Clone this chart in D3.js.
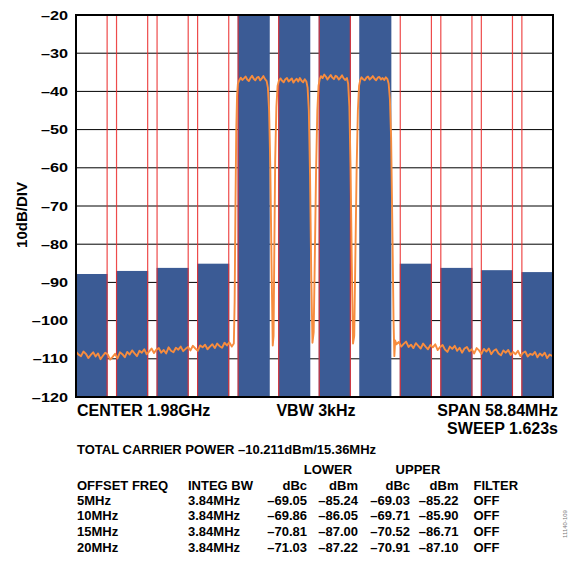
<!DOCTYPE html>
<html>
<head>
<meta charset="utf-8">
<script src="https://cdn.jsdelivr.net/npm/d3@7"></script>
<style>
  body { margin: 0; background: #fff; }
  svg text { font-family: "Liberation Sans", Arial, sans-serif; font-weight: bold; fill: #000; }
</style>
</head>
<body>
<div id="chart"></div>
<script>
// channel centres (MHz offset from 1.98GHz) and measured channel power (dBm)
var channelMHz = [-27.5, -22.5, -17.5, -12.5, -7.5, -2.5, 2.5, 7.5, 12.5, 17.5, 22.5, 27.5];
var channelDbm = [-87.8, -87.0, -86.2, -85.1, -16.2, -16.2, -16.2, -16.2, -85.1, -86.2, -86.8, -87.3];

// integration band edges (red markers), MHz
var markerMHz = [-25.58, -24.42, -20.58, -19.42, -15.58, -14.42, -10.58, -9.42,
                 -4.42, 0.58, 4.42, 10.58, 14.42, 15.58, 19.42, 20.58, 24.42, 25.58];

var yTicks = [-120, -110, -100, -90, -80, -70, -60, -50, -40, -30, -20];

// spectrum trace: [MHz, dBm]
var trace = [
  [-29.4,-108.2],[-29.1,-108.9],[-28.8,-109.3],[-28.5,-108.1],[-28.2,-108.7],[-27.9,-109.8],
  [-27.6,-109.0],[-27.3,-108.3],[-27.0,-109.4],[-26.7,-108.6],[-26.4,-110.1],[-26.1,-109.2],
  [-25.8,-108.4],[-25.5,-108.9],[-25.2,-110.2],[-24.9,-109.5],[-24.6,-108.7],[-24.3,-109.9],
  [-24.0,-108.3],[-23.7,-108.8],[-23.4,-109.6],[-23.1,-108.2],[-22.8,-108.9],[-22.5,-107.8],
  [-22.2,-108.6],[-21.9,-109.3],[-21.6,-107.9],[-21.3,-108.4],[-21.0,-107.5],[-20.7,-108.8],
  [-20.4,-108.1],[-20.1,-107.3],[-19.8,-108.5],[-19.5,-107.6],[-19.2,-107.2],[-18.9,-108.4],
  [-18.6,-107.7],[-18.3,-108.6],[-18.0,-107.0],[-17.7,-107.9],[-17.4,-108.3],[-17.1,-107.1],
  [-16.8,-107.6],[-16.5,-106.8],[-16.2,-108.0],[-15.9,-107.4],[-15.6,-106.9],[-15.3,-107.8],
  [-15.0,-106.6],[-14.7,-107.3],[-14.4,-107.9],[-14.1,-106.5],[-13.8,-107.0],[-13.5,-106.3],
  [-13.2,-107.5],[-12.9,-106.8],[-12.6,-106.2],[-12.3,-107.2],[-12.0,-106.0],[-11.7,-106.7],
  [-11.4,-107.1],[-11.1,-105.8],[-10.8,-106.5],[-10.5,-105.7],[-10.2,-106.8],[-9.95,-106.0],
  [-9.85,-95],[-9.75,-70],[-9.65,-50],[-9.55,-41],[-9.45,-38],[-9.3,-37.2],
  [-9.1,-36.4],[-8.9,-37.0],[-8.7,-36.6],[-8.5,-36.1],[-8.3,-36.9],[-8.1,-37.3],[-7.9,-36.5],
  [-7.7,-35.9],[-7.5,-36.7],[-7.3,-37.1],[-7.1,-36.4],[-6.9,-36.2],[-6.7,-37.1],[-6.5,-36.6],
  [-6.3,-36.0],[-6.1,-36.8],[-5.9,-37.3],[-5.75,-39],[-5.6,-45],[-5.45,-60],[-5.3,-85],
  [-5.15,-106.5],[-5.05,-104],[-4.95,-80],[-4.85,-58],[-4.7,-44],[-4.55,-38.5],[-4.4,-37.3],
  [-4.2,-36.6],[-4.0,-37.2],[-3.8,-37.6],[-3.6,-36.8],[-3.4,-36.5],[-3.2,-37.4],[-3.0,-37.0],
  [-2.8,-36.6],[-2.6,-37.7],[-2.4,-37.1],[-2.2,-36.7],[-2.0,-37.4],[-1.8,-36.5],[-1.6,-37.2],
  [-1.4,-37.6],[-1.2,-36.8],[-1.0,-37.4],[-0.85,-39],[-0.7,-45],[-0.55,-62],[-0.4,-88],
  [-0.25,-105.8],[-0.1,-103],[0.05,-82],[0.2,-60],[0.35,-45],[0.5,-38.5],[0.65,-36.8],
  [0.8,-36.0],[1.0,-36.5],[1.2,-35.6],[1.4,-36.1],[1.6,-36.9],[1.8,-36.3],[2.0,-35.7],
  [2.2,-36.4],[2.4,-36.8],[2.6,-35.9],[2.8,-36.2],[3.0,-36.9],[3.2,-36.4],[3.4,-35.8],
  [3.6,-36.6],[3.8,-37.0],[4.0,-36.5],[4.15,-38],[4.3,-44],[4.45,-60],[4.6,-85],
  [4.75,-106],[4.9,-104],[5.05,-82],[5.2,-60],[5.35,-45],[5.5,-38.5],[5.65,-37],
  [5.8,-36.3],[6.0,-36.8],[6.2,-37.1],[6.4,-36.4],[6.6,-36.1],[6.8,-36.9],[7.0,-36.5],
  [7.2,-36.0],[7.4,-36.7],[7.6,-37.1],[7.8,-36.4],[8.0,-36.2],[8.2,-36.9],[8.4,-36.5],
  [8.6,-37.0],[8.8,-36.3],[9.0,-36.8],[9.15,-38],[9.3,-42],[9.45,-52],[9.6,-75],
  [9.75,-100],[9.85,-109.3],[9.95,-105.2],
  [10.1,-106.2],[10.4,-105.6],[10.7,-106.8],[11.0,-106.1],[11.3,-105.5],[11.6,-106.9],
  [11.9,-106.3],[12.2,-107.2],[12.5,-105.9],[12.8,-106.6],[13.1,-107.3],[13.4,-106.0],
  [13.7,-106.8],[14.0,-107.5],[14.3,-106.4],[14.6,-107.0],[14.9,-106.2],[15.2,-107.7],
  [15.5,-106.9],[15.8,-106.4],[16.1,-107.6],[16.4,-108.2],[16.7,-106.8],[17.0,-107.4],
  [17.3,-106.6],[17.6,-107.9],[17.9,-107.1],[18.2,-108.4],[18.5,-107.3],[18.8,-106.9],
  [19.1,-108.0],[19.4,-107.5],[19.7,-108.6],[20.0,-107.2],[20.3,-107.8],[20.6,-108.7],
  [20.9,-107.4],[21.2,-108.1],[21.5,-107.3],[21.8,-108.8],[22.1,-107.9],[22.4,-107.5],
  [22.7,-108.6],[23.0,-109.1],[23.3,-107.8],[23.6,-108.4],[23.9,-107.7],[24.2,-109.0],
  [24.5,-108.2],[24.8,-108.8],[25.1,-107.9],[25.4,-109.3],[25.7,-108.5],[26.0,-108.1],
  [26.3,-109.4],[26.6,-108.7],[26.9,-109.0],[27.2,-108.2],[27.5,-109.6],[27.8,-108.6],
  [28.1,-109.2],[28.4,-108.4],[28.7,-109.8],[29.0,-108.9],[29.4,-109.3]
];

// ACLR table
var offsetFreq = ["5MHz", "10MHz", "15MHz", "20MHz"];
var integBw = ["3.84MHz", "3.84MHz", "3.84MHz", "3.84MHz"];
var lowerDbc = ["–69.05", "–69.86", "–70.81", "–71.03"];
var lowerDbm = ["–85.24", "–86.05", "–87.00", "–87.22"];
var upperDbc = ["–69.03", "–69.71", "–70.52", "–70.91"];
var upperDbm = ["–85.22", "–85.90", "–86.71", "–87.10"];
var filterCol = ["OFF", "OFF", "OFF", "OFF"];

var W = 569, H = 567;
var x0 = 76, x1 = 553, yTop = 15, yBot = 397;
var barWidthMHz = 3.96;

var svg = d3.select("#chart").append("svg")
    .attr("width", W).attr("height", H);

var x = d3.scaleLinear().domain([-29.42, 29.42]).range([x0, x1]);
var y = d3.scaleLinear().domain([-120, -20]).range([yBot, yTop]).clamp(true);

svg.append("clipPath").attr("id", "plotclip")
  .append("rect").attr("x", x0).attr("y", yTop).attr("width", x1 - x0).attr("height", yBot - yTop);

// horizontal grid
svg.append("g").selectAll("line")
  .data(yTicks.slice(1, -1))
  .enter().append("line")
    .attr("x1", x0).attr("x2", x1)
    .attr("y1", d => y(d)).attr("y2", d => y(d))
    .style("stroke", "#000").style("stroke-width", 1);

var plot = svg.append("g").attr("clip-path", "url(#plotclip)");

// channel power bars
plot.selectAll("rect.bar")
  .data(channelMHz)
  .enter().append("rect")
    .attr("class", "bar")
    .attr("x", d => x(d - barWidthMHz / 2))
    .attr("width", d => x(barWidthMHz) - x(0))
    .attr("y", (d, i) => y(channelDbm[i]))
    .attr("height", (d, i) => yBot - y(channelDbm[i]))
    .style("fill", "#3b5b95");

// integration band markers
plot.selectAll("line.marker")
  .data(markerMHz)
  .enter().append("line")
    .attr("class", "marker")
    .attr("x1", d => x(d)).attr("x2", d => x(d))
    .attr("y1", yTop).attr("y2", yBot)
    .style("stroke", "#ec2c2c").style("stroke-width", 1.2)
    .style("opacity", 0.85);

// trace
var line = d3.line().x(d => x(d[0])).y(d => y(d[1]));
plot.append("path")
  .datum(trace)
  .attr("d", line)
  .style("fill", "none")
  .style("stroke", "#f78c3e")
  .style("stroke-width", 1.9)
  .style("stroke-linejoin", "round");

// frame
svg.append("rect")
  .attr("x", x0).attr("y", yTop).attr("width", x1 - x0).attr("height", yBot - yTop)
  .style("fill", "none").style("stroke", "#000").style("stroke-width", 2);

// y tick labels (wide face)
var fmt = d => d < 0 ? "–" + Math.abs(d) : "" + d;
svg.append("g").selectAll("text")
  .data(yTicks)
  .enter().append("text")
    .attr("transform", d => "translate(" + (x0 - 8) + "," + y(d) + ") scale(1.3,1)")
    .attr("dy", "0.36em")
    .attr("text-anchor", "end")
    .style("font-size", "12.5px")
    .text(fmt);

svg.append("text")
  .attr("transform", "translate(26.5," + ((yTop + yBot) / 2 + 9) + ") rotate(-90)")
  .attr("text-anchor", "middle")
  .style("font-size", "15px")
  .text("10dB/DIV");

// settings under the plot
var big = "16px";
svg.append("text").attr("x", 77).attr("y", 416).style("font-size", big).text("CENTER 1.98GHz");
svg.append("text").attr("x", 316).attr("y", 416).attr("text-anchor", "middle").style("font-size", big).text("VBW 3kHz");
svg.append("text").attr("x", 558).attr("y", 416).attr("text-anchor", "end").style("font-size", big).text("SPAN 58.84MHz");
svg.append("text").attr("x", 558).attr("y", 434).attr("text-anchor", "end").style("font-size", big).text("SWEEP 1.623s");

var small = "13px";
svg.append("text").attr("x", 77).attr("y", 453.5).style("font-size", small)
  .text("TOTAL CARRIER POWER –10.211dBm/15.36MHz");

svg.append("text").attr("x", 328).attr("y", 474).attr("text-anchor", "middle").style("font-size", small).text("LOWER");
svg.append("text").attr("x", 418).attr("y", 474).attr("text-anchor", "middle").style("font-size", small).text("UPPER");

var cols = [
  { head: "OFFSET FREQ", vals: offsetFreq, x: 77, anchor: "start" },
  { head: "INTEG BW", vals: integBw, x: 188, anchor: "start" },
  { head: "dBc", vals: lowerDbc, x: 307, anchor: "end" },
  { head: "dBm", vals: lowerDbm, x: 358, anchor: "end" },
  { head: "dBc", vals: upperDbc, x: 410, anchor: "end" },
  { head: "dBm", vals: upperDbm, x: 458.5, anchor: "end" },
  { head: "FILTER", vals: filterCol, x: 473.5, anchor: "start" }
];
var rowY = [489.5, 504.5, 520, 536, 551.5];

cols.forEach(function(c) {
  var g = svg.append("g").attr("text-anchor", c.anchor).style("font-size", small);
  g.append("text").attr("x", c.x).attr("y", rowY[0]).text(c.head);
  g.selectAll("text.v").data(c.vals).enter().append("text")
    .attr("class", "v")
    .attr("x", c.x).attr("y", (d, i) => rowY[i + 1])
    .text(d => d);
});

// figure code
svg.append("text")
  .attr("transform", "translate(567,524) rotate(-90)")
  .attr("text-anchor", "middle")
  .style("font-size", "6px").style("font-weight", "normal").style("fill", "#777")
  .text("11140-109");
</script>
</body>
</html>
